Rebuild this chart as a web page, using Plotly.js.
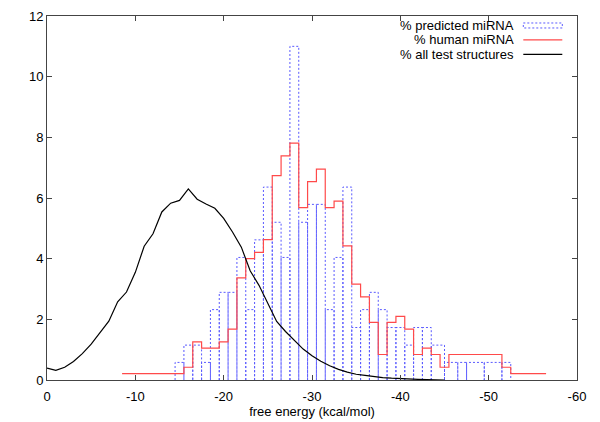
<!DOCTYPE html>
<html>
<head>
<meta charset="utf-8">
<script src="https://cdn.plot.ly/plotly-3.0.1.min.js"></script>
<style>html,body{margin:0;padding:0;background:#fff;}#chart{width:600px;height:422px;}</style>
</head>
<body>
<div id="chart"></div>
<script>
// % predicted miRNA (boxes, free energy bin centres)
const predX = [-15,-16,-17,-18,-19,-20,-21,-22,-23,-24,-25,-26,-27,-28,-29,-30,-31,-32,-33,-34,-35,-36,-37,-38,-39,-40,-41,-42,-43,-44,-46,-47,-48,-51,-52];
const predY = [0.58,1.15,1.15,0.58,2.32,2.89,2.89,4.04,2.32,4.62,6.36,5.2,4.04,11.0,5.2,5.79,5.79,2.32,4.04,6.36,1.73,2.32,2.89,2.32,1.73,1.73,1.15,1.73,1.73,1.15,0.58,0.58,0.58,0.58,0.58];

// % human miRNA (histeps)
const humanX = [-9,-10,-11,-12,-13,-14,-15,-16,-17,-18,-19,-20,-21,-22,-23,-24,-25,-26,-27,-28,-29,-30,-31,-32,-33,-34,-35,-36,-37,-38,-39,-40,-41,-42,-43,-44,-45,-46,-47,-48,-49,-50,-51,-52,-53,-54,-55,-56];
const humanY = [0.21,0.21,0.21,0.21,0.21,0.21,0.21,0.42,1.26,1.05,1.05,1.26,1.68,3.37,4.0,4.21,4.63,6.74,7.39,7.81,5.68,6.54,6.95,5.68,5.9,4.42,3.16,2.74,1.9,0.84,1.9,2.1,1.68,0.84,1.05,0.84,0.42,0.84,0.84,0.84,0.84,0.84,0.84,0.42,0.21,0.21,0.21,0.21];

// % all test structures (line)
const allX = [0,-1,-2,-3,-4,-5,-6,-7,-8,-9,-10,-11,-12,-13,-14,-15,-16,-17,-18,-19,-20,-21,-22,-23,-24,-25,-26,-27,-28,-29,-30,-31,-32,-33,-34,-35,-36,-37,-38,-39,-40,-41,-42,-43,-44,-45];
const allY = [0.39,0.32,0.42,0.61,0.87,1.18,1.56,1.94,2.58,2.9,3.55,4.41,4.82,5.54,5.83,5.92,6.3,5.96,5.8,5.66,5.33,4.88,4.38,3.6,3.12,2.55,1.93,1.6,1.3,1.02,0.8,0.62,0.47,0.35,0.26,0.19,0.15,0.11,0.08,0.06,0.04,0.03,0.02,0.01,0.01,0.0];

const xTicks = [0,-10,-20,-30,-40,-50,-60];
const yTicks = [0,2,4,6,8,10,12];
const seriesNames = ['% predicted miRNA','% human miRNA','% all test structures'];

// bin edges at midpoints between neighbouring points (as gnuplot boxes/histeps)
function edges(xs){
  const n = xs.length, out = [];
  for (let i=0;i<n;i++){
    const a = i===0 ? xs[0]-(xs[1]-xs[0])/2 : (xs[i-1]+xs[i])/2;
    const b = i===n-1 ? xs[n-1]+(xs[n-1]-xs[n-2])/2 : (xs[i]+xs[i+1])/2;
    out.push([a,b]);
  }
  return out;
}

// boxes outline path
const pe = edges(predX);
const bx = [], by = [];
pe.forEach((e,i)=>{
  bx.push(e[0],e[0],e[1],e[1],null);
  by.push(0,predY[i],predY[i],0,null);
});

// histeps path
const he = edges(humanX);
const hx = [], hy = [];
he.forEach((e,i)=>{ hx.push(e[0],e[1]); hy.push(humanY[i],humanY[i]); });

const blue = '#5a5aff', red = '#ff4a4a';
const font = {family:'Liberation Sans, Arial, sans-serif', size:13, color:'#000'};

const traces = [
  {x:bx, y:by, mode:'lines', type:'scatter', name:seriesNames[0], connectgaps:false,
   line:{color:blue, width:1, dash:'2px,2px'}, hoverinfo:'skip'},
  {x:hx, y:hy, mode:'lines', type:'scatter', name:seriesNames[1],
   line:{color:red, width:1.2}, hoverinfo:'skip'},
  {x:allX, y:allY, mode:'lines', type:'scatter', name:seriesNames[2],
   line:{color:'#000', width:1.2}, hoverinfo:'skip'}
];

// legend (gnuplot style: text right-aligned, sample on the right)
const L = 46.7, T = 15.5, W = 530, H = 364.5;
const px2x = p => (p-L)/W, py2y = p => 1-(p-T)/H;
const rows = [25, 39.5, 54];
const annotations = seriesNames.map((s,i)=>({
  xref:'paper', yref:'paper', x:px2x(516), y:py2y(rows[i]), xanchor:'right', yanchor:'middle',
  text:s, showarrow:false, font:{family:font.family, size:13, color:'#000'}
}));
const shapes = [
  {type:'rect', xref:'paper', yref:'paper', x0:px2x(523), x1:px2x(562), y0:py2y(rows[0]-2.5), y1:py2y(rows[0]+2.5),
   line:{color:blue, width:1, dash:'2px,2px'}},
  {type:'line', xref:'paper', yref:'paper', x0:px2x(523), x1:px2x(562), y0:py2y(rows[1]), y1:py2y(rows[1]),
   line:{color:red, width:1.2}},
  {type:'line', xref:'paper', yref:'paper', x0:px2x(523), x1:px2x(562), y0:py2y(rows[2]), y1:py2y(rows[2]),
   line:{color:'#000', width:1.2}}
];

const axisCommon = {showgrid:false, zeroline:false, showline:true, linecolor:'#444', linewidth:1,
  mirror:'ticks', ticks:'inside', ticklen:5, tickcolor:'#444', tickfont:font};

const layout = {
  width:600, height:422,
  margin:{l:L, r:600-L-W, t:T, b:422-T-H, pad:0},
  paper_bgcolor:'#fff', plot_bgcolor:'#fff',
  showlegend:false,
  font:font,
  xaxis:Object.assign({}, axisCommon, {range:[0,-60], tickvals:xTicks, ticktext:xTicks.map(String),
    ticklabelstandoff:4,
    title:{text:'free energy (kcal/mol)', font:font, standoff:4}}),
  yaxis:Object.assign({}, axisCommon, {range:[0,12], tickvals:yTicks, ticktext:yTicks.map(String)}),
  annotations:annotations,
  shapes:shapes
};

Plotly.newPlot('chart', traces, layout, {staticPlot:true, displayModeBar:false});
</script>
</body>
</html>
